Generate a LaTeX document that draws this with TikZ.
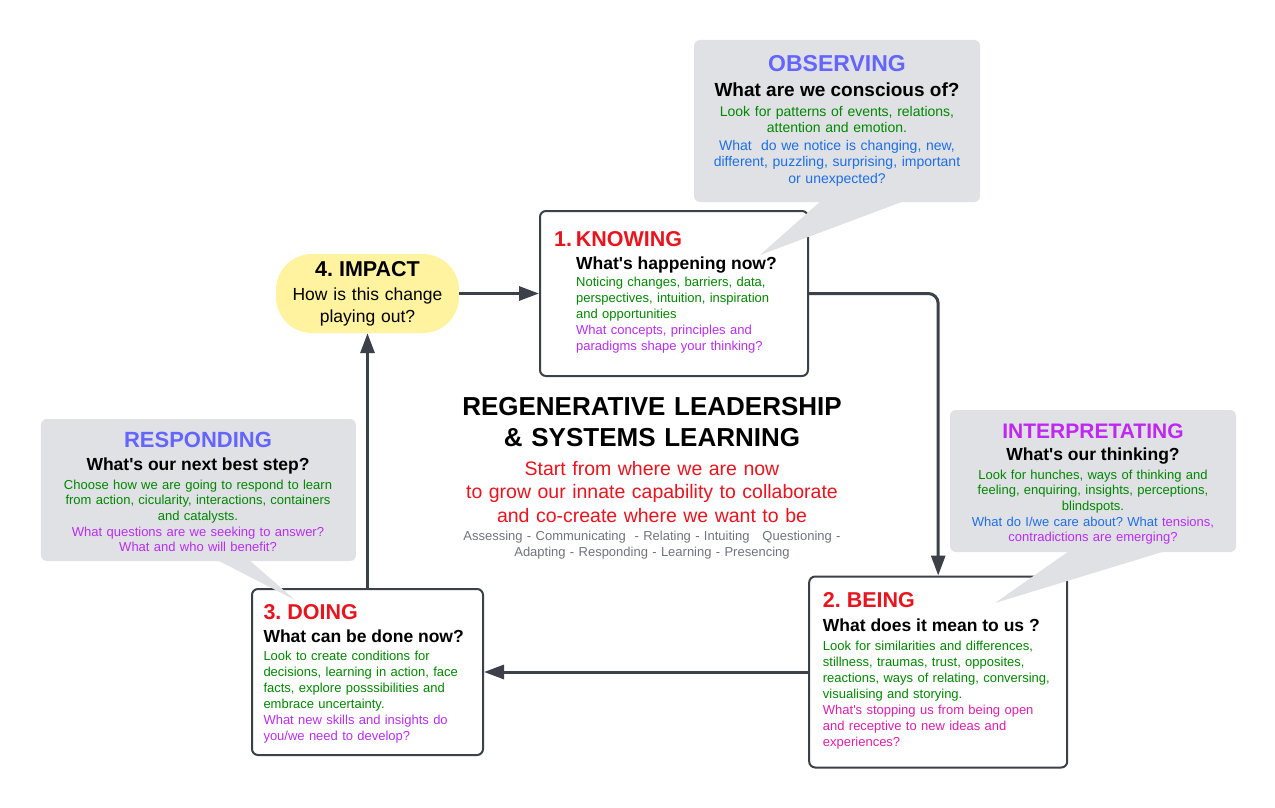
\documentclass[tikz,border=0pt]{standalone}
\usepackage{fontspec}
\setmainfont{Liberation Sans}
\usetikzlibrary{arrows.meta}
\definecolor{headBlue}{RGB}{100,100,255}
\definecolor{headPurple}{RGB}{190,40,240}
\definecolor{stepRed}{RGB}{232,20,30}
\definecolor{noteGreen}{RGB}{0,135,0}
\definecolor{noteBlue}{RGB}{30,110,230}
\definecolor{notePurple}{RGB}{185,45,240}
\definecolor{noteMagenta}{RGB}{220,30,170}
\definecolor{bubbleGray}{RGB}{223,225,229}
\definecolor{edgeGray}{RGB}{60,64,72}
\definecolor{impactYellow}{RGB}{255,243,160}
\definecolor{quietGray}{RGB}{112,116,124}
\newcommand\fsz[2]{\fontsize{#1}{#2}\selectfont}
\newcommand\apos{\textquotesingle}
\frenchspacing

\begin{document}
\begin{tikzpicture}[x=1pt,y=-1pt]

          \tikzstyle{stepCard} = [draw=edgeGray, line width=2pt, fill=white, rounded corners=6pt, inner sep=0pt];
          \tikzstyle{bubble} = [fill=bubbleGray, rounded corners=6pt, inner sep=0pt];
          \tikzstyle{bubbleTail} = [fill=bubbleGray];
          \tikzstyle{flow} = [edgeGray, line width=3pt, -{Triangle[length=20pt,width=14pt]}];
          \tikzstyle{stepTitle} = [anchor=base west, inner sep=0pt, text=stepRed, font=\bfseries\fsz{21.5}{26}];
          \tikzstyle{stepAsk} = [anchor=base west, inner sep=0pt, font=\bfseries\fsz{17.5}{21}];
          \tikzstyle{stepText} = [anchor=base west, inner sep=0pt, text width=260pt, align=left, font=\fsz{13}{16}];
          \tikzstyle{bubbleTitle} = [anchor=base, inner sep=0pt, font=\bfseries\fsz{22}{26}];
          \tikzstyle{bubbleAsk} = [anchor=base, inner sep=0pt, font=\bfseries\fsz{17.5}{21}];
          \tikzstyle{bubbleText} = [anchor=base, inner sep=0pt, text width=300pt, align=center, font=\fsz{13}{15.7}];
          \tikzstyle{midText} = [anchor=base, inner sep=0pt, text width=420pt, align=center];

          \path[fill=white, use as bounding box] (0,0) rectangle (1275,808);

          \node[stepCard, minimum width=268pt, minimum height=165pt] (know) at (674,293.5) {};
          \node[stepCard, minimum width=258pt, minimum height=191pt] (being) at (938.2,672) {};
          \node[stepCard, minimum width=231pt, minimum height=166pt] (doing) at (367.5,672) {};
          \node[fill=impactYellow, rounded corners=36pt, inner sep=0pt, minimum width=183pt, minimum height=79pt] (imp) at (367.5,293.5) {};

          \node[bubble, minimum width=286pt, minimum height=162pt] (obs) at (837,121) {};
          \coordinate (obsTip) at (760,255);
          \fill[bubbleTail] (822,200) -- (obsTip) -- (907,200) -- cycle;
          \node[bubble, minimum width=286pt, minimum height=142pt] (intp) at (1093,481) {};
          \coordinate (intpTip) at (995,603);
          \fill[bubbleTail] (1072,549) -- (intpTip) -- (1172,549) -- cycle;
          \node[bubble, minimum width=315pt, minimum height=142pt] (resp) at (198.4,490) {};
          \coordinate (respTip) at (295,600);
          \fill[bubbleTail] (215,559) -- (respTip) -- (248,559) -- cycle;

          \node[bubbleTitle, text=headBlue, font=\bfseries\fsz{23}{27}] (obsT) at (837,71) {OBSERVING};
          \node[bubbleAsk, font=\bfseries\fsz{19}{23}] (obsQ) at (837,96.7) {What are we conscious of?};
          \node[bubbleText, font=\fsz{14}{17}] (obsB) at (837,116) {\color{noteGreen}Look for patterns of events, relations,\\attention and emotion.\\\color{noteBlue}What\ \ do we notice is changing, new,\\different, puzzling, surprising, important\\or unexpected?};

          \node[bubbleTitle, text=headPurple, font=\bfseries\fsz{21}{25}] (intpT) at (1093,438.3) {INTERPRETATING};
          \node[bubbleAsk] (intpQ) at (1093,460) {What\apos s our thinking?};
          \node[bubbleText] (intpB) at (1093,479) {\color{noteGreen}Look for hunches, ways of thinking and\\feeling, enquiring, insights, perceptions,\\blindspots.\\\color{noteBlue}What do I/we care about? What \color{notePurple}tensions,\\contradictions are emerging?};

          \node[bubbleTitle, text=headBlue] (respT) at (198,447.7) {RESPONDING};
          \node[bubbleAsk] (respQ) at (198,470) {What\apos s our next best step?};
          \node[bubbleText] (respB) at (198,489) {\color{noteGreen}Choose how we are going to respond to learn\\from action, cicularity, interactions, containers\\and catalysts.\\\color{notePurple}What questions are we seeking to answer?\\What and who will benefit?};

          \node[stepTitle] (knowT) at (554,246) {1.\hspace{3.7pt}KNOWING};
          \node[stepAsk] (knowQ) at (576,269) {What\apos s happening now?};
          \node[stepText] (knowB) at (576,286) {\color{noteGreen}Noticing changes, barriers, data,\\perspectives, intuition, inspiration\\and opportunities\\\color{notePurple}What concepts, principles and\\paradigms shape your thinking?};

          \node[stepTitle] (beingT) at (822.7,607.7) {2. BEING};
          \node[stepAsk] (beingQ) at (822.7,631) {What does it mean to us ?};
          \node[stepText] (beingB) at (822.7,650) {\color{noteGreen}Look for similarities and differences,\\stillness, traumas, trust, opposites,\\reactions, ways of relating, conversing,\\visualising and storying.\\\color{noteMagenta}What\apos s stopping us from being open\\and receptive to new ideas and\\experiences?};

          \node[stepTitle] (doingT) at (263.3,619) {3. DOING};
          \node[stepAsk] (doingQ) at (263.3,642.3) {What can be done now?};
          \node[stepText] (doingB) at (263.3,660) {\color{noteGreen}Look to create conditions for\\decisions, learning in action, face\\facts, explore posssibilities and\\embrace uncertainty.\\\color{notePurple}What new skills and insights do\\you/we need to develop?};

          \node[anchor=base, inner sep=0pt, font=\bfseries\fsz{21.5}{26}] (impT) at (367.5,276.7) {4. IMPACT};
          \node[anchor=base, inner sep=0pt, text width=180pt, align=center, font=\fsz{17.5}{22}] (impB) at (367.5,300) {How is this change\\playing out?};

          \node[midText, font=\bfseries\fsz{26}{31}] (mainT) at (652,415.7) {REGENERATIVE LEADERSHIP\\\& SYSTEMS LEARNING};
          \node[midText, text=stepRed, font=\fsz{19.5}{23.7}] (mainS) at (652,475) {Start from where we are now\\to grow our innate capability to collaborate\\and co-create where we want to be};
          \node[midText, text=quietGray, font=\fsz{13}{16.5}] (mainL) at (652,540) {Assessing - Communicating \ - Relating - Intuiting \ \ Questioning -\\Adapting - Responding - Learning - Presencing};

          \draw[flow] (imp) -- (know);
          \draw[flow, rounded corners=10pt] (know.east) -| (being.north);
          \draw[flow] (being) -- (doing);
          \draw[flow] (doing) -- (imp);
        \end{tikzpicture}
\end{document}
